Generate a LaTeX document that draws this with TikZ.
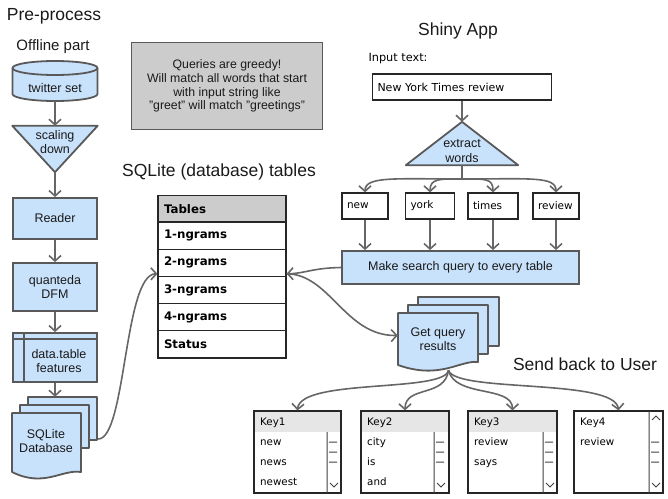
\documentclass[tikz,border=0pt]{standalone}
\usepackage{fontspec}
\setmainfont{Liberation Sans}
\newfontfamily\comicfont{DejaVu Sans}
\usetikzlibrary{arrows.meta}
\definecolor{blu}{HTML}{C9E2FC}
\definecolor{bord}{HTML}{595959}
\definecolor{arrc}{HTML}{666666}
\definecolor{notec}{HTML}{CCCCCC}
\definecolor{hdrc}{HTML}{E6E6E6}
\definecolor{txt}{HTML}{1A1A1A}
\begin{document}
\begin{tikzpicture}[x=1pt,y=-1pt,
  conn/.style={draw=arrc, line width=1.6pt, -{Straight Barb[length=5.5pt,width=12pt]}},
  plainline/.style={draw=arrc, line width=1.6pt},
  bluebox/.style={draw=bord, fill=blu, line width=1.8pt, inner sep=0pt, align=center, font=\fontsize{12.5}{14.5}\selectfont, text=txt},
  shapefill/.style={draw=bord, fill=blu, line width=1.8pt, line join=round},
  cover/.style={inner sep=0pt},
  lbl/.style={font=\fontsize{12.5}{14.5}\selectfont, align=center, text=txt, inner sep=0pt},
  titlelbl/.style={font=\fontsize{17.5}{20}\selectfont, text=txt, inner sep=0pt},
  cbox/.style={draw=black!85, line width=1.2pt, inner xsep=5pt, inner ysep=0pt, minimum height=26pt, align=left, font=\comicfont\fontsize{10.5}{12}\selectfont},
  tabrow/.style={draw=black!85, line width=1.1pt, inner xsep=6pt, inner ysep=0pt, text width=116pt, minimum height=27.2pt, align=left, font=\comicfont\bfseries\fontsize{11.8}{13}\selectfont},
  listbox/.style={draw=black!85, line width=1.2pt, inner sep=0pt, minimum height=82pt},
  ltxt/.style={anchor=west, inner sep=0pt, text height=7.5pt, text depth=2pt, font=\comicfont\fontsize{10.3}{12}\selectfont},
  sb/.style={draw=black!75, line width=1pt}
]
\useasboundingbox (0,0) rectangle (668,498);

% titles
\node[titlelbl] (tpre) at (54,16) {Pre-process};
\node[font=\fontsize{15}{17}\selectfont, text=txt, inner sep=0pt] (toff) at (53,47) {Offline part};
\node[titlelbl] (tsql) at (219,172) {SQLite (database) tables};
\node[titlelbl] (tshiny) at (458,31) {Shiny App};
\node[titlelbl] (tsend) at (585,364) {Send back to User};

% ---------- left column ----------
\node[cover, minimum width=85pt, minimum height=40pt] (tw) at (55,81) {};
\path[shapefill] (12.5,68) -- (12.5,94) .. controls (12.5,97.9) and (31.5,101) .. (55,101)
  .. controls (78.5,101) and (97.5,97.9) .. (97.5,94) -- (97.5,68)
  .. controls (97.5,64.1) and (78.5,61) .. (55,61) .. controls (31.5,61) and (12.5,64.1) .. (12.5,68) -- cycle;
\draw[bord, line width=1.8pt] (12.5,68) .. controls (12.5,71.9) and (31.5,75) .. (55,75) .. controls (78.5,75) and (97.5,71.9) .. (97.5,68);
\node[lbl] (twl) at (55,88) {twitter set};

\node[cover, minimum width=85pt, minimum height=46pt] (sc) at (55,149) {};
\path[shapefill] (sc.north west) -- (sc.north east) -- (sc.south) -- cycle;
\node[lbl] (scl) at (55,142) {scaling\\down};

\node[bluebox, minimum width=84pt, minimum height=41pt] (rd) at (55,218.5) {Reader};
\node[bluebox, minimum width=84pt, minimum height=48pt] (qd) at (55,287) {quanteda\\DFM};
\node[bluebox, minimum width=84pt, minimum height=49pt] (dt) at (55,357.5) {};
\draw[bord, line width=1.4pt] (13,339) -- (97,339) (24,333) -- (24,382);
\node[lbl] (dtl) at (59,361) {data.table\\features};

\node[cover, minimum width=86pt, minimum height=84pt] (db) at (55,439) {};
\path[shapefill] (28,397) rectangle (97,440);
\path[shapefill] (20,405) rectangle (89,448);
\path[shapefill] (12,413) -- (81,413) -- (81,472) .. controls (62,469) and (44,488) .. (12,472) -- cycle;
\node[lbl] (dbl) at (46,441) {SQLite\\Database};

% ---------- note ----------
\node[draw=bord, fill=notec, line width=1.8pt, minimum width=191pt, minimum height=87pt, inner sep=0pt, align=center, font=\fontsize{12.3}{13.8}\selectfont, text=txt] (note) at (227,86)
  {Queries are greedy!\\Will match all words that start\\with input string like\\"greet" will match "greetings"};

% ---------- table ----------
\node[tabrow, fill=notec] (th) at (222,209) {Tables};
\node[tabrow] (r1) at (222,235.6) {1-ngrams};
\node[tabrow] (r2) at (222,262.8) {2-ngrams};
\node[tabrow] (r3) at (222,290) {3-ngrams};
\node[tabrow] (r4) at (222,317.2) {4-ngrams};
\node[tabrow] (r5) at (222,344.4) {Status};

% ---------- shiny ----------
\node[font=\comicfont\fontsize{11.3}{13}\selectfont, inner sep=0pt] (inl) at (398,59) {Input text:};
\node[cbox, text width=169pt, font=\comicfont\fontsize{11}{13}\selectfont] (inp) at (462,87) {New York Times review};

\node[cover, minimum width=112pt, minimum height=43pt] (ex) at (462,143.5) {};
\path[shapefill] (ex.south west) -- (ex.south east) -- (ex.north) -- cycle;
\node[lbl] (exl) at (462,151) {extract\\words};

\node[cbox, text width=36pt] (w1) at (365,206) {new};
\node[cbox, text width=39pt] (w2) at (430,206) {york};
\node[cbox, text width=40pt] (w3) at (493,206) {times};
\node[cbox, text width=36pt] (w4) at (556,206) {review};
\coordinate (br) at (462,179);

\node[bluebox, minimum width=237pt, minimum height=33pt] (ms) at (460.5,267.5) {Make search query to every table};

\node[cover, minimum width=101pt, minimum height=77pt] (gq) at (448.5,335.5) {};
\path[shapefill] (418,297) rectangle (499,346);
\path[shapefill] (408,305) rectangle (488,354);
\path[shapefill] (398,313) -- (478,313) -- (478,362) .. controls (460,360) and (440,380) .. (398,365) -- cycle;
\node[lbl] (gql) at (438,339) {Get query\\results};

% ---------- list boxes ----------
\fill[hdrc] (254,411) rectangle (341,432);
\node[listbox, minimum width=87pt] (k1) at (297.5,452) {};
\draw[sb] (327,432) -- (327,493) (329,442) -- (337,442) (329,452) -- (337,452) (329,462) -- (337,462) (330,483) -- (334,487) -- (338,483);
\node[ltxt] (k1h) at (260,423) {Key1};
\node[ltxt] (k1a) at (260,443) {new};
\node[ltxt] (k1b) at (260,463) {news};
\node[ltxt] (k1c) at (260,483) {newest};

\fill[hdrc] (361,411) rectangle (449,432);
\node[listbox, minimum width=88pt] (k2) at (405,452) {};
\draw[sb] (434,432) -- (434,493) (436,442) -- (444,442) (436,452) -- (444,452) (436,462) -- (444,462) (437,483) -- (441,487) -- (445,483);
\node[ltxt] (k2h) at (367,423) {Key2};
\node[ltxt] (k2a) at (367,443) {city};
\node[ltxt] (k2b) at (367,463) {is};
\node[ltxt] (k2c) at (367,483) {and};

\fill[hdrc] (468,411) rectangle (557,432);
\node[listbox, minimum width=89pt] (k3) at (512.5,452) {};
\draw[sb] (543,432) -- (543,493) (545,442) -- (553,442) (545,452) -- (553,452) (545,462) -- (553,462) (546,483) -- (550,487) -- (554,483);
\node[ltxt] (k3h) at (474,423) {Key3};
\node[ltxt] (k3a) at (474,443) {review};
\node[ltxt] (k3b) at (474,463) {says};

\node[listbox, minimum width=89pt] (k4) at (618.5,452) {};
\draw[sb] (649,411) -- (649,493) (651,442) -- (659,442) (651,452) -- (659,452) (651,462) -- (659,462) (652,483) -- (656,487) -- (660,483) (652,420) -- (656,416) -- (660,420);
\node[ltxt] (k4h) at (580,423) {Key4};
\node[ltxt] (k4a) at (580,443) {review};

% ---------- connectors ----------
\draw[conn] (tw.south) -- (sc.north);
\draw[conn] (sc.south) -- (rd.north);
\draw[conn] (rd.south) -- (qd.north);
\draw[conn] (qd.south) -- (dt.north);
\draw[conn] (dt.south) -- (db.north);
\draw[conn] (db.east) .. controls (126,439) and (124,274) .. ([yshift=-11pt]r2.west);

\draw[conn] (inp.south) -- (ex.north);
\draw[plainline] (ex.south) -- (br);
\draw[conn] (br) .. controls (395,179) and (365,176) .. (w1.north);
\draw[conn] (br) .. controls (440,179) and (430,178) .. (w2.north);
\draw[conn] (br) .. controls (485,179) and (493,178) .. (w3.north);
\draw[conn] (br) .. controls (530,179) and (556,176) .. (w4.north);
\draw[conn] (w1.south) -- (w1.south |- ms.north);
\draw[conn] (w2.south) -- (w2.south |- ms.north);
\draw[conn] (w3.south) -- (w3.south |- ms.north);
\draw[conn] (w4.south) -- (w4.south |- ms.north);

\draw[conn] (ms.west) .. controls (312,268) and (305,273.5) .. ([yshift=-11pt]r2.east);
\draw[conn] ([yshift=-11pt]r2.east) .. controls (330,274) and (345,336) .. (gq.west);

\draw[conn] ([yshift=4pt]gq.south) .. controls (445,393) and (300,378) .. (k1.north);
\draw[conn] ([yshift=4pt]gq.south) .. controls (445,398) and (405,385) .. (k2.north);
\draw[conn] ([yshift=4pt]gq.south) .. controls (455,398) and (512.5,385) .. (k3.north);
\draw[conn] ([yshift=4pt]gq.south) .. controls (455,393) and (615,378) .. (k4.north);
\end{tikzpicture}
\end{document}
